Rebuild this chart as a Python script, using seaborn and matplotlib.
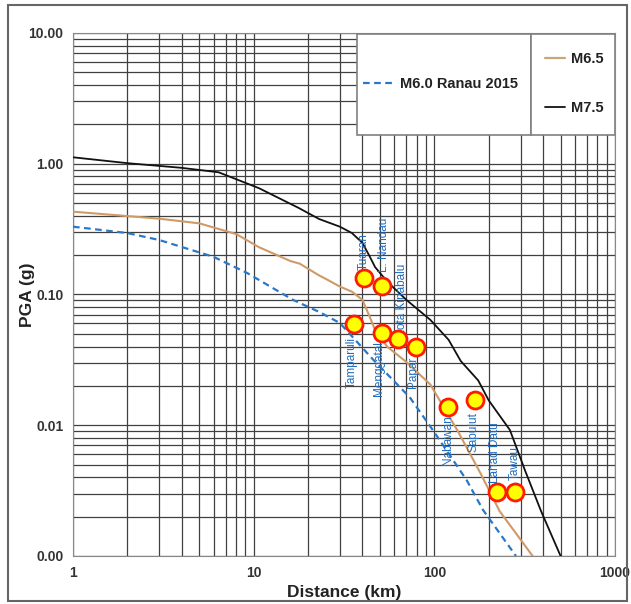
import numpy as np
import pandas as pd
import seaborn as sns
import matplotlib.pyplot as plt
from matplotlib.patches import Rectangle
from matplotlib.ticker import FixedLocator, LogLocator, FuncFormatter, NullFormatter

# attenuation curves (distance km, PGA g)
dist_m60 = [1, 2, 3, 6, 9.2, 16.5, 23.3, 30, 46, 73, 98, 151, 186, 283]
pga_m60 = [0.33, 0.295, 0.261, 0.194, 0.146, 0.091, 0.073, 0.0605, 0.0316, 0.0164, 0.0092, 0.0038, 0.00225, 0.001]

dist_m65 = [1, 3, 5, 8, 10.7, 16, 18, 23, 25.5, 30, 35, 40, 44, 47, 55, 70, 95, 135, 180, 230, 350]
pga_m65 = [0.43, 0.38, 0.35, 0.29, 0.23, 0.18, 0.172, 0.14, 0.13, 0.115, 0.105, 0.091, 0.067, 0.0535, 0.0397, 0.0305, 0.0205, 0.009, 0.0043, 0.0022, 0.001]

dist_m75 = [1, 2, 4, 6.4, 10.7, 17.7, 23, 30, 35, 40, 44, 47, 55, 70, 95, 120, 140, 175, 200, 262, 318, 390, 500]
pga_m75 = [1.12, 1.01, 0.93, 0.86, 0.65, 0.46, 0.378, 0.33, 0.295, 0.248, 0.194, 0.162, 0.125, 0.091, 0.064, 0.045, 0.031, 0.022, 0.0155, 0.0092, 0.0045, 0.0022, 0.001]

# recorded stations
stations = ['Tuaran', 'L. Nandau', 'Tamparuli', 'Menggatal', 'Kota Kinabalu', 'Papar',
            'Nabawan', 'Sapulut', 'Lahad Datu', 'Tawau']
sta_dist = [40.8, 51.3, 35.9, 51.3, 62.9, 79.1, 119, 168, 222, 279]
sta_pga = [0.134, 0.116, 0.0595, 0.0508, 0.0457, 0.0397, 0.0138, 0.0156, 0.00309, 0.00309]

# label offsets in pixels (dx, dy) and vertical alignment
lab_off = [(0, 8), (2, 14), (-2, -13), (-3, -8), (4, 2), (-3, -10), (0, -8), (-2, -12), (-2, 9), (0, 12)]
lab_va = ['bottom', 'bottom', 'top', 'top', 'bottom', 'top', 'top', 'top', 'bottom', 'bottom']

sns.set_style('white')
plt.rcParams['font.family'] = ['Liberation Sans', 'DejaVu Sans']

fig, ax = plt.subplots(figsize=(6.31, 6.04), dpi=100)
fig.subplots_adjust(left=0.1157, right=0.9746, bottom=0.0795, top=0.9454)

ax.set_xscale('log')
ax.set_yscale('log')
ax.set_xlim(1, 1000)
ax.set_ylim(0.001, 10)

ax.xaxis.set_major_locator(FixedLocator([1, 10, 100, 1000]))
ax.yaxis.set_major_locator(FixedLocator([0.001, 0.01, 0.1, 1, 10]))
ax.xaxis.set_minor_locator(LogLocator(base=10, subs=np.arange(2, 10)))
ax.yaxis.set_minor_locator(LogLocator(base=10, subs=np.arange(2, 10)))
ax.xaxis.set_minor_formatter(NullFormatter())
ax.yaxis.set_minor_formatter(NullFormatter())
ax.xaxis.set_major_formatter(FuncFormatter(lambda v, p: '%d' % v))
ax.yaxis.set_major_formatter(FuncFormatter(lambda v, p: '%.2f' % v))

ax.grid(True, which='both', color='#404040', lw=0.9)
ax.set_axisbelow(True)
ax.tick_params(which='major', length=4, width=0.8, color='#777777', labelsize=10, labelcolor='#333333', pad=3)
ax.tick_params(which='minor', length=0)
for lab in ax.get_xticklabels() + ax.get_yticklabels():
    lab.set_fontweight('bold')
for s in ax.spines.values():
    s.set_color('#888888')
    s.set_linewidth(0.8)

sns.lineplot(x=dist_m60, y=pga_m60, ax=ax, color='#2a78c8', lw=1.6, linestyle=(0, (3, 2)), zorder=3)
sns.lineplot(x=dist_m65, y=pga_m65, ax=ax, color='#cf9a68', lw=1.5, zorder=3)
sns.lineplot(x=dist_m75, y=pga_m75, ax=ax, color='#111111', lw=1.3, zorder=3)

for name, x, y, (dx, dy), va in zip(stations, sta_dist, sta_pga, lab_off, lab_va):
    ax.annotate(name, (x, y), xytext=(dx, dy), textcoords='offset pixels', rotation=90,
                ha='center', va=va, color='#1f6cbf', fontsize=8.5, zorder=4)

sns.scatterplot(x=sta_dist, y=sta_pga, ax=ax, s=150, color='#ffff00', edgecolor='#ff1a00',
                linewidth=2, zorder=5)

ax.set_xlabel('Distance (km)', fontsize=12.5, fontweight='bold', color='#222222', labelpad=4)
ax.set_ylabel('PGA (g)', fontsize=12.5, fontweight='bold', color='#222222')
ax.yaxis.set_label_coords(-0.070, 0.5)

# legend boxes
ax.add_patch(Rectangle((0.524, 0.805), 0.321, 0.193, transform=ax.transAxes,
                       facecolor='white', edgecolor='#808080', lw=1.2, zorder=6))
ax.add_patch(Rectangle((0.845, 0.805), 0.155, 0.193, transform=ax.transAxes,
                       facecolor='white', edgecolor='#808080', lw=1.2, zorder=6))

h60, = ax.plot([], [], color='#2a78c8', lw=1.6, linestyle=(0, (3, 2)))
h65, = ax.plot([], [], color='#c8a878', lw=1.6)
h75, = ax.plot([], [], color='#111111', lw=1.3)

leg1 = ax.legend([h60], ['M6.0 Ranau 2015'], loc='center left', bbox_to_anchor=(0.535, 0.9025),
                 frameon=False, borderpad=0, borderaxespad=0, handlelength=2.2, handletextpad=0.35,
                 prop={'weight': 'bold', 'size': 10.5})
leg1.set_zorder(7)
ax.add_artist(leg1)
leg2 = ax.legend([h65, h75], ['M6.5', 'M7.5'], loc='center left', bbox_to_anchor=(0.871, 0.9025),
                 frameon=False, borderpad=0, borderaxespad=0, handlelength=1.4, handletextpad=0.35,
                 labelspacing=2.4, prop={'weight': 'bold', 'size': 10.5})
leg2.set_zorder(7)
for t in leg1.get_texts() + leg2.get_texts():
    t.set_color('#222222')

# outer frame
fig.add_artist(Rectangle((8 / 631, 3 / 604), 619 / 631, 596 / 604, transform=fig.transFigure,
                         fill=False, edgecolor='#666666', lw=1.5))

fig.savefig('out.png', dpi=100)
